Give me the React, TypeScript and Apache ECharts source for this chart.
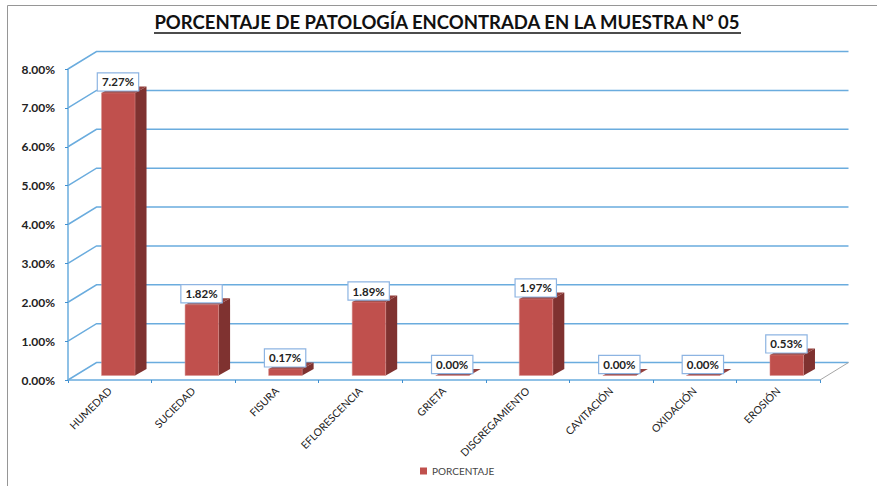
import React, { useEffect, useRef } from "react";
import * as echarts from "echarts";

const titleText = "PORCENTAJE DE PATOLOGÍA ENCONTRADA EN LA MUESTRA N° 05";
const seriesName = "PORCENTAJE";
const categories = ["HUMEDAD", "SUCIEDAD", "FISURA", "EFLORESCENCIA", "GRIETA", "DISGREGAMIENTO", "CAVITACIÓN", "OXIDACIÓN", "EROSIÓN"];
const values = [7.27, 1.82, 0.17, 1.89, 0.0, 1.97, 0.0, 0.0, 0.53];
const wallTicks = [0, 1, 2, 3, 4, 5, 6, 7, 8];

const FONT = "Lato, 'Open Sans', sans-serif";
const BLUE = "#6AACDE";
const DEPTH_X = 28.5;
const DEPTH_Y = -17.5;

export default function App() {
  const ref = useRef<HTMLDivElement>(null);
  useEffect(() => {
    document.body.style.margin = "0";
    const chart = echarts.init(ref.current!, undefined, { renderer: "svg" });
    chart.setOption({
      animation: false,
      backgroundColor: "#ffffff",
      title: {
        text: titleText,
        left: 442,
        textAlign: "center",
        top: 8,
        textStyle: { fontFamily: FONT, fontSize: 18.5, fontWeight: "bold", color: "#111111", lineHeight: 18 },
      },
      legend: {
        data: [seriesName],
        left: 415,
        top: 461,
        icon: "rect",
        itemWidth: 7,
        itemHeight: 7,
        itemGap: 4,
        textStyle: { fontFamily: FONT, fontSize: 10, color: "#444444" },
      },
      grid: { left: 68, right: 57, top: 69, bottom: 106 },
      xAxis: {
        type: "category",
        data: categories,
        axisLine: { show: true, lineStyle: { color: BLUE, width: 1.5 } },
        axisTick: { show: true, length: 3, lineStyle: { color: "#3F8FD0", width: 1 } },
        axisLabel: {
          rotate: 45,
          interval: 0,
          margin: 9,
          fontFamily: FONT,
          fontSize: 10.5,
          color: "#222222",
        },
      },
      yAxis: {
        type: "value",
        min: 0,
        max: 8,
        interval: 1,
        splitLine: { show: false },
        axisLine: { show: true, lineStyle: { color: BLUE, width: 1.5 } },
        axisTick: { show: true, length: 3, lineStyle: { color: "#3F8FD0", width: 1 } },
        axisLabel: {
          margin: 13,
          fontFamily: FONT,
          fontSize: 12,
          fontWeight: "bold",
          color: "#222222",
          formatter: (v: number) => v.toFixed(2) + "%",
        },
      },
      series: [
        {
          name: "pared",
          type: "custom",
          silent: true,
          clip: false,
          z: 1,
          data: wallTicks.map((v) => [0, v]),
          renderItem: (params: any, api: any) => {
            const cs = params.coordSys;
            const y = api.coord([0, api.value(1)])[1];
            const xa = cs.x;
            const xb = cs.x + DEPTH_X;
            const xc = cs.x + cs.width + DEPTH_X;
            const children: any[] = [
              {
                type: "polyline",
                shape: { points: [[xa, y], [xb, y + DEPTH_Y], [xc, y + DEPTH_Y]] },
                style: { fill: "none", stroke: BLUE, lineWidth: 1.5 },
              },
            ];
            if (api.value(1) === 0) {
              children.push({
                type: "line",
                shape: { x1: cs.x + cs.width, y1: y, x2: xc, y2: y + DEPTH_Y },
                style: { stroke: "#A6A6A6", lineWidth: 1 },
              });
            }
            return { type: "group", children };
          },
        },
        {
          name: seriesName,
          type: "custom",
          clip: false,
          z: 3,
          itemStyle: { color: "#C0504D" },
          data: values.map((v, i) => [i, v]),
          renderItem: (_params: any, api: any) => {
            const v = api.value(1);
            const top = api.coord([api.value(0), v]);
            const base = api.coord([api.value(0), 0]);
            const cx = top[0] + 8.5;
            const w = 33.5;
            const x0 = cx - w / 2;
            const x1 = cx + w / 2;
            const yBase = base[1] - 4.5;
            const yTop = top[1] - 4.5;
            const dx = 11.5;
            const dy = -6.5;
            return {
              type: "group",
              children: [
                {
                  type: "polygon",
                  shape: { points: [[x1, yBase], [x1 + dx, yBase + dy], [x1 + dx, yTop + dy], [x1, yTop]] },
                  style: { fill: "#7F3230" },
                },
                {
                  type: "polygon",
                  shape: { points: [[x0, yTop], [x0 + dx, yTop + dy], [x1 + dx, yTop + dy], [x1, yTop]] },
                  style: { fill: "#93403D" },
                },
                {
                  type: "rect",
                  shape: { x: x0, y: yTop, width: w, height: yBase - yTop },
                  style: { fill: "#C0504D", stroke: "#D98F8D", lineWidth: 0.5 },
                },
                {
                  type: "text",
                  x: cx - 0.3,
                  y: yTop - 11,
                  z2: 10,
                  style: {
                    text: v.toFixed(2) + "%",
                    align: "center",
                    verticalAlign: "middle",
                    fontFamily: FONT,
                    fontSize: 11.5,
                    fontWeight: "bold",
                    fill: "#222222",
                    backgroundColor: "#ffffff",
                    borderColor: "#8DB4E2",
                    borderWidth: 1.2,
                    padding: [2.5, 4, 2.5, 4],
                  },
                },
              ],
            };
          },
        },
      ],
      graphic: [
        {
          type: "line",
          silent: true,
          z: 10,
          shape: { x1: 154, y1: 33, x2: 741, y2: 33 },
          style: { stroke: "#111111", lineWidth: 1.5 },
        },
        {
          type: "polyline",
          silent: true,
          shape: { points: [[7.5, 486], [7.5, 5.5], [877, 5.5]] },
          style: { fill: "none", stroke: "#969696", lineWidth: 1 },
        },
      ],
    });
    return () => chart.dispose();
  }, []);
  return <div ref={ref} style={{ width: 877, height: 486 }} />;
}
